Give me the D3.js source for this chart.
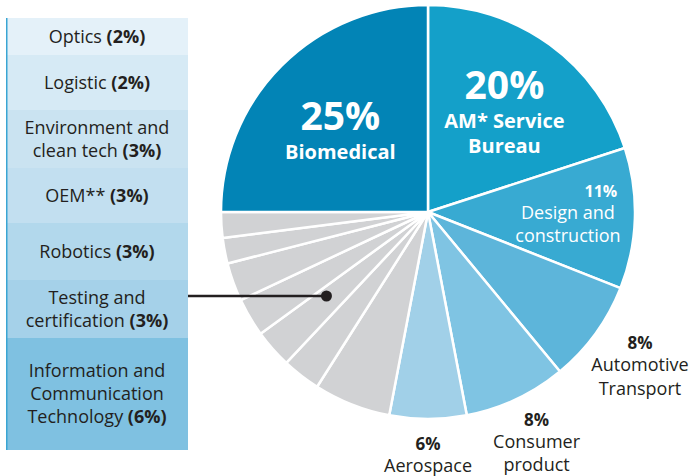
<!DOCTYPE html>
<html lang="en">
	<head>
		<meta charset="utf-8">
		<title>AM sectors pie</title>
		<script src="https://d3js.org/d3.v7.min.js"></script>
		<style type="text/css">
		body {
			margin: 0;
			background: white;
		}
		text {
			font-family: 'Open Sans', sans-serif;
		}
		</style>
	</head>
	<body>
		<div id="my_dataviz"></div>
		<script>

// sectors, clockwise from 12 o'clock
var sectors = ["AM* Service Bureau", "Design and construction", "Automotive Transport", "Consumer product", "Aerospace",
  "Information and Communication Technology", "Testing and certification", "Robotics", "OEM**", "Environment and clean tech",
  "Logistic", "Optics", "Biomedical"]
var shares = [20, 11, 8, 8, 6, 6, 3, 3, 3, 3, 2, 2, 25]
var sliceColors = ["#14a0c9", "#38aad2", "#5db5da", "#7fc4e3", "#a1d0e8",
  "#d1d2d4", "#d1d2d4", "#d1d2d4", "#d1d2d4", "#d1d2d4", "#d1d2d4", "#d1d2d4", "#0284b6"]

// labels drawn on / around the pie
var pieLabels = {
  "AM* Service Bureau": ["AM* Service", "Bureau"],
  "Design and construction": ["Design and", "construction"],
  "Automotive Transport": ["Automotive", "Transport"],
  "Consumer product": ["Consumer", "product"],
  "Aerospace": ["Aerospace"],
  "Biomedical": ["Biomedical"]
}

// legend box (top to bottom)
var legendNames = [["Optics"], ["Logistic"], ["Environment and", "clean tech"], ["OEM**"], ["Robotics"],
  ["Testing and", "certification"], ["Information and", "Communication", "Technology"]]
var legendShares = [2, 2, 3, 3, 3, 3, 6]
var legendColors = ["#e4f1f9", "#d6eaf5", "#cae3f1", "#c2dff0", "#b2d8ec", "#a5d1e9", "#7fc1e1"]

var width = 691
var height = 476
var cx = 428, cy = 212, radius = 207

var svg = d3.select("#my_dataviz")
  .append("svg")
    .attr("width", width)
    .attr("height", height)

var data = sectors.map(function(s, i) { return {name: s, value: shares[i], color: sliceColors[i]} })

var pie = d3.pie()
  .value(d => d.value)
  .sort(null)

var arc = d3.arc()
  .innerRadius(0)
  .outerRadius(radius)

var arcs = pie(data)

var g = svg.append("g")
  .attr("transform", "translate(" + cx + "," + cy + ")")

g.selectAll("path")
  .data(arcs)
  .enter()
  .append("path")
    .attr("d", arc)
    .attr("fill", d => d.data.color)
    .attr("stroke", "white")
    .attr("stroke-width", 2.5)
    .attr("stroke-linejoin", "round")

// how far from the centre each label block sits
var labelR = {
  "Biomedical": 124,
  "AM* Service Bureau": 130,
  "Design and construction": 142,
  "Automotive Transport": 262,
  "Consumer product": 255,
  "Aerospace": 243
}

arcs.forEach(function(a) {
  var lines = pieLabels[a.data.name]
  if (!lines) return
  var v = a.data.value
  var r = labelR[a.data.name]
  var pos = d3.arc().innerRadius(r).outerRadius(r).centroid(a)
  var inside = v >= 10
  var big = v >= 20
  var col = inside ? "white" : "#231f20"
  var tx = pos[0], y0, pctGap, gap, pctSize, lineSize

  if (big) {
    pctSize = 39; lineSize = 20; pctGap = 29; gap = 25
    y0 = pos[1] + 6 - 14 * (lines.length - 1)
  } else {
    pctSize = inside ? 16 : 17; lineSize = 18; pctGap = 22; gap = 23.5
    y0 = pos[1] - (pctGap + gap * (lines.length - 1)) / 2 + (inside ? 3 : 6)
    if (lines.length == 1) y0 = pos[1] - 5
  }
  if (a.data.name == "Design and construction") tx = tx - 2

  g.append("text")
    .attr("x", a.data.name == "Design and construction" ? tx + 33 : tx)
    .attr("y", y0)
    .attr("text-anchor", "middle")
    .attr("font-weight", 700)
    .attr("font-size", pctSize)
    .attr("fill", col)
    .text(v + "%")

  lines.forEach(function(l, k) {
    g.append("text")
      .attr("x", tx)
      .attr("y", y0 + pctGap + gap * k)
      .attr("text-anchor", "middle")
      .attr("font-weight", big ? 700 : 400)
      .attr("font-size", lineSize)
      .attr("fill", col)
      .text(l)
  })
})

// legend table
var rowHeights = [37, 55, 58, 55, 57, 58, 112]
var legX = 6, legW = 182, legTop = 18
var lineH = 23

var rowY = [legTop]
rowHeights.forEach(function(h, i) { rowY.push(rowY[i] + h) })

var leg = svg.append("g")

leg.selectAll("rect")
  .data(legendNames)
  .enter()
  .append("rect")
    .attr("x", legX)
    .attr("y", (d, i) => rowY[i])
    .attr("width", legW)
    .attr("height", (d, i) => rowHeights[i])
    .attr("fill", (d, i) => legendColors[i])

leg.append("line")
  .attr("x1", legX + 0.75).attr("x2", legX + 0.75)
  .attr("y1", legTop).attr("y2", rowY[rowY.length - 1])
  .attr("stroke", "#3aa5d3")
  .attr("stroke-width", 1.5)

legendNames.forEach(function(lines, i) {
  var mid = rowY[i] + rowHeights[i] / 2
  var base = mid + 6 - (lines.length - 1) * lineH / 2
  lines.forEach(function(l, k) {
    var t = leg.append("text")
      .attr("x", legX + legW / 2)
      .attr("y", base + k * lineH)
      .attr("text-anchor", "middle")
      .attr("font-size", 18)
      .attr("fill", "#231f20")
    t.append("tspan").text(l)
    if (k == lines.length - 1) {
      t.append("tspan").attr("font-weight", 700).text(" (" + legendShares[i] + "%)")
    }
  })
})

// leader from the legend into the middle of the grey group
var greyArcs = arcs.filter(a => a.data.color == "#d1d2d4")
var greyMid = (d3.min(greyArcs, a => a.startAngle) + d3.max(greyArcs, a => a.endAngle)) / 2
var ti = legendNames.findIndex(l => l[0] == "Testing and")
var leadY = rowY[ti] + rowHeights[ti] / 2 - 13
// point on the mid-angle ray at height leadY
var rr = (leadY - cy) / -Math.cos(greyMid)
var dotX = cx + rr * Math.sin(greyMid)

svg.append("line")
  .attr("x1", legX + legW)
  .attr("x2", dotX)
  .attr("y1", leadY)
  .attr("y2", leadY)
  .attr("stroke", "#231f20")
  .attr("stroke-width", 2.5)

svg.append("circle")
  .attr("cx", dotX)
  .attr("cy", leadY)
  .attr("r", 5.5)
  .attr("fill", "#231f20")

		</script>
	</body>
</html>
